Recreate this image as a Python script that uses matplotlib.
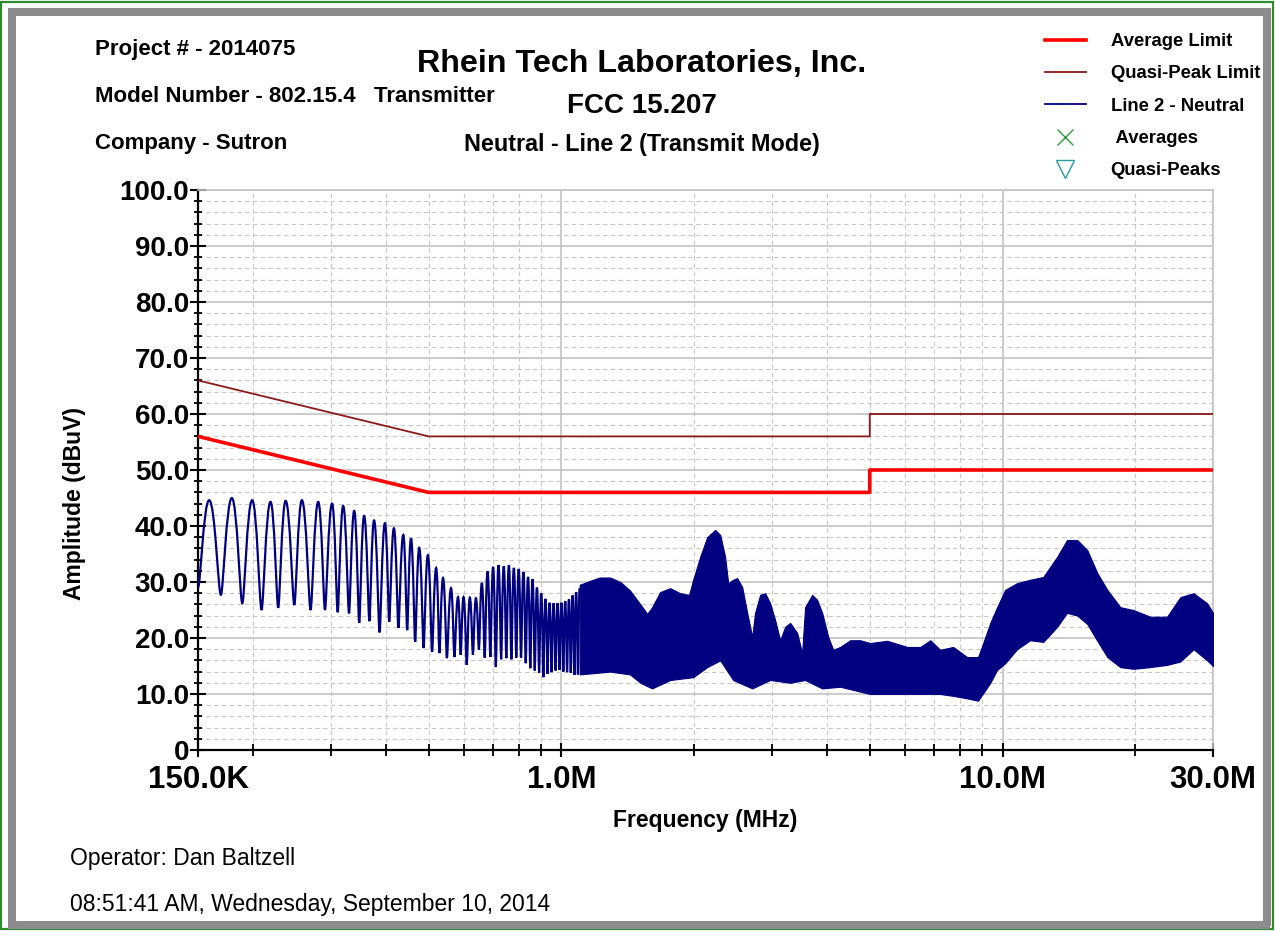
import numpy as np
import matplotlib.pyplot as plt
from matplotlib.patches import Rectangle, PathPatch
from matplotlib.path import Path
from matplotlib.lines import Line2D

plt.rcParams['font.family'] = ['Liberation Sans', 'DejaVu Sans']

# limit lines (MHz, dBuV)
limit_freq = [0.15, 0.5, 0.5, 5.0, 5.0, 30.0]
avg_limit = [56.0, 46.0, 46.0, 46.0, 50.0, 50.0]
qp_limit = [66.0, 56.0, 56.0, 56.0, 60.0, 60.0]

# scan below ~1.1 MHz: ripple peaks and troughs
peak_freq = [0.159, 0.179, 0.199, 0.219, 0.237, 0.258, 0.281, 0.302, 0.320, 0.339,
             0.357, 0.376, 0.398, 0.417, 0.438, 0.456, 0.476, 0.498, 0.520, 0.539,
             0.562, 0.583, 0.60, 0.62, 0.64, 0.66, 0.68, 0.70, 0.72, 0.74,
             0.76, 0.78, 0.80, 0.82, 0.84, 0.86, 0.88, 0.90, 0.92, 0.94,
             0.96, 0.98, 1.00, 1.02, 1.04, 1.06, 1.08, 1.10]
peak_db = [44.6, 45.0, 44.6, 44.3, 44.5, 44.6, 44.3, 44.0, 43.6, 42.7,
           41.8, 41.0, 40.5, 39.6, 38.4, 37.8, 36.1, 34.8, 32.5, 30.7,
           28.9, 27.3, 27.3, 27.2, 27.1, 29.8, 31.9, 32.7, 33.0, 32.8,
           33.0, 32.5, 32.3, 31.8, 30.9, 30.5, 29.0, 28.0, 27.0, 26.3,
           26.2, 26.2, 26.3, 26.6, 26.9, 27.6, 28.2, 28.9]
trough_freq = [0.150, 0.169, 0.189, 0.209, 0.228, 0.248, 0.270, 0.291, 0.311, 0.330,
               0.348, 0.367, 0.387, 0.407, 0.427, 0.447, 0.466, 0.487, 0.509, 0.529,
               0.550, 0.572, 0.591, 0.61, 0.63, 0.65, 0.67, 0.69, 0.71, 0.73,
               0.75, 0.77, 0.79, 0.81, 0.83, 0.85, 0.87, 0.89, 0.91, 0.93,
               0.95, 0.97, 0.99, 1.01, 1.03, 1.05, 1.07, 1.09]
trough_db = [29.0, 27.7, 26.2, 25.0, 25.4, 25.9, 25.0, 25.0, 24.6, 24.4,
             22.7, 23.0, 21.0, 22.9, 21.8, 21.4, 19.3, 18.2, 17.5, 17.3,
             16.4, 16.6, 17.0, 15.2, 17.0, 17.9, 16.5, 16.6, 14.8, 16.2,
             16.4, 16.2, 16.5, 16.5, 15.5, 14.6, 14.2, 13.8, 13.0, 13.6,
             13.9, 14.2, 14.3, 14.0, 13.9, 13.8, 13.4, 13.5]

# scan above 1.1 MHz: dense ripple, upper/lower envelope
env_hi_freq = [1.10, 1.16, 1.22, 1.29, 1.36, 1.43, 1.51, 1.565, 1.605, 1.674,
               1.764, 1.858, 1.947, 1.989, 2.063, 2.14, 2.231, 2.291, 2.35, 2.388,
               2.451, 2.502, 2.569, 2.637, 2.707, 2.748, 2.821, 2.896, 2.973, 3.051,
               3.132, 3.215, 3.30, 3.423, 3.513, 3.568, 3.702, 3.80, 3.90, 4.025,
               4.131, 4.285, 4.513, 4.755, 5.01, 5.475, 6.08, 6.51, 6.86, 7.22,
               7.73, 8.31, 8.80, 9.04, 9.38, 9.72, 10.14, 10.79, 11.55, 12.37,
               13.30, 14.0, 14.77, 15.56, 16.4, 17.28, 18.49, 19.79, 21.62, 23.6,
               25.3, 27.1, 29.1, 30.0]
env_hi = [29.5, 30.2, 30.8, 30.8, 30.0, 28.5, 26.0, 24.3, 25.5, 28.2,
          28.9, 28.0, 27.7, 30.4, 34.5, 38.0, 39.3, 38.4, 34.5, 29.8,
          30.4, 30.7, 29.1, 24.5, 20.2, 24.5, 27.7, 28.0, 26.2, 23.2,
          19.6, 22.0, 22.7, 20.9, 17.3, 25.5, 27.7, 26.8, 24.5, 20.2,
          17.9, 18.4, 19.6, 19.6, 19.1, 19.5, 18.4, 18.4, 19.6, 17.9,
          18.4, 16.6, 16.6, 19.1, 22.7, 25.5, 28.6, 29.8, 30.4, 30.9,
          34.5, 37.5, 37.5, 35.7, 31.6, 28.6, 25.5, 25.0, 23.8, 23.8,
          27.3, 28.0, 26.2, 24.5]
env_lo_freq = [1.10, 1.29, 1.43, 1.51, 1.605, 1.764, 1.989, 2.14, 2.291, 2.451,
               2.707, 2.973, 3.30, 3.568, 3.90, 4.285, 5.01, 6.08, 7.22, 8.0,
               8.80, 9.38, 9.72, 10.14, 10.79, 11.55, 12.37, 13.30, 14.0, 14.77,
               15.56, 16.4, 17.28, 18.49, 19.79, 21.62, 23.6, 25.3, 27.1, 29.1, 30.0]
env_lo = [13.5, 14.0, 13.5, 12.0, 11.0, 12.5, 13.0, 14.8, 16.0, 12.5,
          11.0, 12.5, 12.0, 12.5, 11.0, 11.3, 10.0, 10.0, 10.0, 9.5,
          8.8, 12.0, 14.3, 15.5, 18.0, 19.6, 19.3, 22.0, 24.5, 24.0,
          22.5, 19.5, 16.6, 14.8, 14.5, 14.8, 15.2, 15.8, 18.0, 16.0, 15.0]

x_major = [0.15, 1.0, 10.0, 30.0]
x_major_labels = ['150.0K', '1.0M', '10.0M', '30.0M']
x_minor = [0.2, 0.3, 0.4, 0.5, 0.6, 0.7, 0.8, 0.9, 2, 3, 4, 5, 6, 7, 8, 9, 20]
y_major = list(range(0, 101, 10))
y_major_labels = ['0'] + ['%.1f' % v for v in y_major[1:]]

W, H = 1275, 931
NAVY = '#000080'
RED = '#FF0000'
MAROON = '#8B1A1A'


def fx(px):
    return px / W


def fy(py):
    return 1 - py / H


def ripple_path(freqs, vals):
    # smooth each peak/trough step with a cubic segment (flat at the extremes)
    verts = [(freqs[0], vals[0])]
    codes = [Path.MOVETO]
    for (f0, v0), (f1, v1) in zip(zip(freqs[:-1], vals[:-1]), zip(freqs[1:], vals[1:])):
        l0, l1 = np.log10(f0), np.log10(f1)
        k0 = 0.5 if v0 > v1 else 0.22
        k1 = 0.5 if v1 > v0 else 0.22
        verts += [(10 ** (l0 + (l1 - l0) * k0), v0),
                  (10 ** (l1 - (l1 - l0) * k1), v1),
                  (f1, v1)]
        codes += [Path.CURVE4] * 3
    return Path(verts, codes)


fig = plt.figure(figsize=(W / 100, H / 100), dpi=100)
fig.patch.set_facecolor('white')

# window frame
fig.add_artist(Rectangle((fx(1), fy(929)), fx(1272), 927 / H, transform=fig.transFigure,
                         fill=False, edgecolor='#2E8B2E', lw=1.6))
for x0, y0, w, h in [(8, 8, 1262, 8), (8, 8, 8, 918), (1263, 8, 8, 918), (8, 921, 1262, 8)]:
    fig.add_artist(Rectangle((fx(x0), fy(y0 + h)), w / W, h / H, transform=fig.transFigure,
                             facecolor='#8C8C8C', edgecolor='none'))

ax = fig.add_axes([fx(198), fy(750), (1213 - 198) / W, (750 - 190) / H])
ax.set_xscale('log')
ax.set_xlim(0.15, 30)
ax.set_ylim(0, 100)

# grid
ax.set_xticks(x_major)
ax.set_xticklabels(x_major_labels)
ax.set_xticks(x_minor, minor=True)
ax.set_xticklabels([], minor=True)
ax.set_yticks(y_major)
ax.set_yticklabels(y_major_labels)
ax.set_yticks(np.arange(0, 101, 2), minor=True)
ax.grid(True, which='major', color='#C4C4C4', lw=1.2, ls='-')
ax.grid(True, which='minor', color='#C8C8C8', lw=0.8, ls=(0, (4, 3)))
ax.set_axisbelow(True)

for s in ['left', 'bottom']:
    ax.spines[s].set_color('black')
    ax.spines[s].set_linewidth(1.6)
for s in ['top', 'right']:
    ax.spines[s].set_color('#C4C4C4')
    ax.spines[s].set_linewidth(1.2)

ax.tick_params(axis='y', which='major', direction='inout', length=11, width=1.5,
               labelsize=20, pad=1)
ax.tick_params(axis='y', which='minor', direction='inout', length=6, width=1.3)
ax.tick_params(axis='x', which='major', direction='inout', length=10, width=1.5,
               labelsize=22.5, pad=6)
ax.tick_params(axis='x', which='minor', direction='inout', length=8, width=1.3)
for lab in ax.get_xticklabels() + ax.get_yticklabels():
    lab.set_fontweight('bold')

# measured trace
zig_f = np.array(peak_freq + trough_freq)
zig_v = np.array(peak_db + trough_db)
order = np.argsort(zig_f)
ax.add_patch(PathPatch(ripple_path(zig_f[order], zig_v[order]), fill=False,
                       edgecolor=NAVY, lw=1.6, zorder=3))
hi = np.array(env_hi)
lo = np.interp(np.log10(env_hi_freq), np.log10(env_lo_freq), env_lo)
ax.fill_between(env_hi_freq, lo, hi, color=NAVY, lw=0.8, edgecolor=NAVY, zorder=3)

# limits
ax.plot(limit_freq, qp_limit, color=MAROON, lw=1.3, zorder=4)
ax.plot(limit_freq, avg_limit, color=RED, lw=2.6, zorder=4)

ax.set_xlabel('Frequency (MHz)', fontsize=16.5, fontweight='bold', labelpad=10)
ax.set_ylabel('Amplitude (dBuV)', fontsize=16.5, fontweight='bold')
ax.yaxis.set_label_coords((86 - 198) / 1015, (750 - 504) / 560)

# header texts
hdr = dict(fontsize=16, fontweight='bold', va='center')
fig.text(fx(95), fy(49), 'Project # - 2014075', ha='left', **hdr)
fig.text(fx(95), fy(96), 'Model Number - 802.15.4   Transmitter', ha='left', **hdr)
fig.text(fx(95), fy(144), 'Company - Sutron', ha='left', **hdr)
fig.text(fx(642), fy(64), 'Rhein Tech Laboratories, Inc.', ha='center', va='center',
         fontsize=23.2, fontweight='bold')
fig.text(fx(642), fy(106), 'FCC 15.207', ha='center', va='center', fontsize=20,
         fontweight='bold')
fig.text(fx(642), fy(144), 'Neutral - Line 2 (Transmit Mode)', ha='center', va='center',
         fontsize=16.8, fontweight='bold')

fig.text(fx(70), fy(858), 'Operator: Dan Baltzell', ha='left', va='center', fontsize=16.5)
fig.text(fx(70), fy(904), '08:51:41 AM, Wednesday, September 10, 2014', ha='left',
         va='center', fontsize=16.5)

# legend
handles = [
    Line2D([], [], color=RED, lw=2.6),
    Line2D([], [], color=MAROON, lw=1.3),
    Line2D([], [], color=NAVY, lw=1.3),
    Line2D([], [], color='#2E9E3E', lw=0, marker='x', markersize=11, mew=1.0),
    Line2D([], [], color='#2A9D9D', lw=0, marker='v', markersize=13, mew=1.0,
           markerfacecolor='none'),
]
labels = ['Average Limit', 'Quasi-Peak Limit', 'Line 2 - Neutral', ' Averages', 'Quasi-Peaks']
fig.legend(handles, labels, loc='upper left', bbox_to_anchor=(fx(1045), fy(33)),
           frameon=False, borderpad=0, borderaxespad=0, handlelength=2.2,
           handletextpad=1.35, labelspacing=0.83,
           prop={'size': 13.3, 'weight': 'bold'})

fig.savefig('out.png', dpi=100)
